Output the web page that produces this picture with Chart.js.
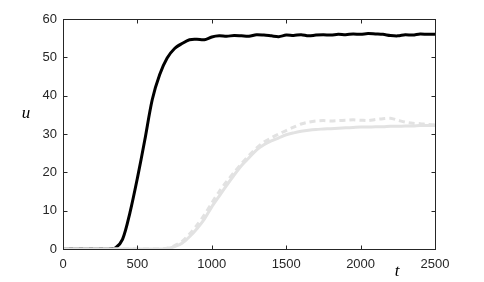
<!DOCTYPE html>
<html>
<head>
<meta charset="utf-8">
<script src="https://cdn.jsdelivr.net/npm/chart.js@4"></script>
<style>
  body { margin: 0; background: #fff; }
  #wrap { width: 484px; height: 282px; position: relative; }
</style>
</head>
<body>
<div id="wrap"><canvas id="myChart"></canvas></div>
<script>
let times = [0, 50, 100, 150, 200, 250, 300, 350, 400, 450, 500, 550, 600, 650, 700, 750, 800, 850, 900, 950,
  1000, 1050, 1100, 1150, 1200, 1250, 1300, 1350, 1400, 1450, 1500, 1550, 1600, 1650, 1700, 1750, 1800, 1850, 1900, 1950,
  2000, 2050, 2100, 2150, 2200, 2250, 2300, 2350, 2400, 2450, 2500];
let uBlack = [0, 0, 0, 0, 0, 0, 0, 0.2, 2.5, 9.5, 18.5, 28.5, 39, 45.5, 49.8, 52.3, 53.6, 54.6, 54.7, 54.6,
  55.3, 55.6, 55.5, 55.7, 55.6, 55.5, 55.9, 55.8, 55.6, 55.4, 55.8, 55.7, 55.9, 55.6, 55.8, 55.9, 55.8, 56.0, 55.9, 56.1,
  56.0, 56.2, 56.1, 56.0, 55.7, 55.6, 55.9, 55.8, 56.1, 56.0, 56.0];
let uGray = [0, 0, 0, 0, 0, 0, 0, 0, 0, 0, 0, 0, 0, 0, 0.1, 0.6, 1.5, 3.2, 5.3, 7.8,
  11, 13.8, 16.6, 19.3, 21.8, 23.8, 25.8, 27.2, 28.2, 29.0, 29.8, 30.3, 30.7, 31.0, 31.2, 31.3, 31.4, 31.5, 31.6, 31.7,
  31.8, 31.8, 31.9, 31.9, 32.0, 32.0, 32.1, 32.1, 32.2, 32.2, 32.2];
let uGrayDash = [0, 0, 0, 0, 0, 0, 0, 0, 0, 0, 0, 0, 0, 0, 0.2, 0.9, 2.0, 3.9, 6.2, 8.9,
  12.0, 15.0, 17.6, 20.0, 22.3, 24.4, 26.3, 27.9, 29.0, 30.0, 30.9, 31.8, 32.6, 33.1, 33.4, 33.5, 33.4, 33.5, 33.6, 33.7,
  33.6, 33.5, 33.8, 34.0, 34.1, 33.6, 33.1, 32.8, 32.7, 32.5, 32.4];
let xTicks = [0, 500, 1000, 1500, 2000, 2500];
let yTicks = [0, 10, 20, 30, 40, 50, 60];

const toPts = (arr) => times.map((t, i) => ({ x: t, y: arr[i] }));
const axisColor = '#262626';
const tickFont = { family: '"Liberation Sans", Arial, sans-serif', size: 13 };

// box frame + inward ticks on all four sides, plus the italic axis names
const framePlugin = {
  id: 'frame',
  afterDraw(chart) {
    const c = chart.ctx, a = chart.chartArea;
    const xs = chart.scales.x, ys = chart.scales.y;
    const L = Math.round(a.left) + 0.5, R = Math.round(a.right) + 0.5;
    const T = Math.round(a.top) + 0.5, B = Math.round(a.bottom) + 0.5;
    c.save();
    c.strokeStyle = axisColor;
    c.lineWidth = 1;
    c.strokeRect(L, T, R - L, B - T);
    c.beginPath();
    xTicks.forEach(v => {
      const px = Math.round(xs.getPixelForValue(v)) + 0.5;
      c.moveTo(px, B); c.lineTo(px, B - 4);
      c.moveTo(px, T); c.lineTo(px, T + 4);
    });
    yTicks.forEach(v => {
      const py = Math.round(ys.getPixelForValue(v)) + 0.5;
      c.moveTo(L, py); c.lineTo(L + 4, py);
      c.moveTo(R, py); c.lineTo(R - 4, py);
    });
    c.stroke();
    c.fillStyle = '#000';
    c.font = 'italic 17px "Liberation Serif", serif';
    c.textAlign = 'center';
    c.textBaseline = 'middle';
    c.fillText('u', 26, 114);
    c.fillText('t', 397, 272);
    c.restore();
  }
};

let ctx = document.getElementById('myChart').getContext('2d');
let myChart = new Chart(ctx, {
  type: 'line',
  data: {
    datasets: [
      { data: toPts(uGrayDash), borderColor: '#e2e2e2', borderWidth: 3, borderDash: [6, 4] },
      { data: toPts(uGray), borderColor: '#e2e2e2', borderWidth: 3 },
      { data: toPts(uBlack), borderColor: '#000', borderWidth: 3 }
    ]
  },
  options: {
    responsive: true,
    maintainAspectRatio: false,
    animation: false,
    elements: { point: { radius: 0 }, line: { tension: 0.3, fill: false } },
    layout: { padding: { left: 0, right: 49, top: 19, bottom: 0 } },
    plugins: { legend: { display: false }, tooltip: { enabled: false } },
    scales: {
      x: {
        type: 'linear', min: 0, max: 2500,
        afterFit: (s) => { s.height = 33; },
        afterBuildTicks: (s) => { s.ticks = xTicks.map(v => ({ value: v })); },
        grid: { display: false, drawTicks: false },
        border: { display: false },
        ticks: { padding: 8, color: axisColor, maxRotation: 0, font: tickFont, callback: (v) => String(v) }
      },
      y: {
        min: 0, max: 60,
        afterFit: (s) => { s.width = 63; },
        afterBuildTicks: (s) => { s.ticks = yTicks.map(v => ({ value: v })); },
        grid: { display: false, drawTicks: false },
        border: { display: false },
        ticks: { padding: 6, color: axisColor, font: tickFont, callback: (v) => String(v) }
      }
    }
  },
  plugins: [framePlugin]
});
</script>
</body>
</html>
